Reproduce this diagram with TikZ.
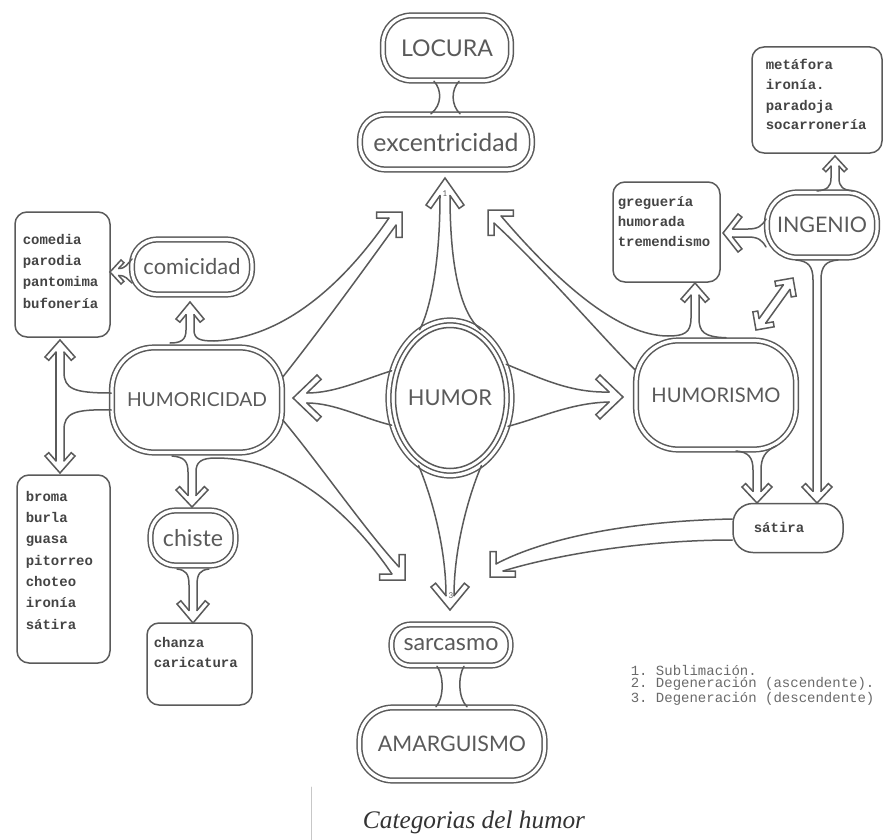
\documentclass[tikz,border=0pt]{standalone}
\usepackage{graphicx}
\usepackage{fontspec}
\setsansfont{Lato}
\setmonofont{Liberation Mono}
\newfontfamily\capfont{Liberation Serif}
\usetikzlibrary{calc,shapes.geometric}

\definecolor{lc}{HTML}{5A5A5A}
\definecolor{tc}{HTML}{5A5A5A}
\definecolor{mc}{HTML}{444444}
\definecolor{gc}{HTML}{6A6A6A}

% hollow arrow head parameters: length, half width, thickness, shaft half width
\newcommand\arL{18}\newcommand\arW{18}\newcommand\arT{6}\newcommand\arS{5}
\newcommand\fitw[2]{\resizebox{#1pt}{!}{#2}}
\newcommand\boxfont{\ttfamily\bfseries\fontsize{14}{21.3}\selectfont}
\newcommand\legfont{\ttfamily\fontsize{14}{12.8}\selectfont}

\tikzset{
  hsz/.code n args={4}{\def\arL{#1}\def\arW{#2}\def\arT{#3}\def\arS{#4}},
  % hollow chevron head, tip at the origin, pointing along +x;
  % (-a) and (-b) are where the two shaft edges enter the head
  hh/.pic={
    \pgfmathsetmacro\hlen{sqrt(\arL*\arL+\arW*\arW)}
    \pgfmathsetmacro\jx{-(\arT*\hlen+\arS*\arL)/\arW}
    \pgfmathsetmacro\ex{-\arL-\arT*\arW/\hlen}
    \pgfmathsetmacro\ey{\arW-\arT*\arL/\hlen}
    \fill[white] (\jx,\arS) -- (\ex,\ey) -- (-\arL,\arW) -- (0,0) -- (-\arL,-\arW)
      -- (\ex,-\ey) -- (\jx,-\arS) -- cycle;
    \draw[line join=miter] (\jx,\arS) -- (\ex,\ey) -- (-\arL,\arW) -- (0,0)
      -- (-\arL,-\arW) -- (\ex,-\ey) -- (\jx,-\arS);
    \coordinate (-a) at (\jx,\arS);
    \coordinate (-b) at (\jx,-\arS);
  },
  dbl/.style={draw, double=white, double distance=3.2pt, line width=1.5pt},
  pill/.style={dbl, rectangle, inner sep=0pt},
  box/.style={draw, rectangle, rounded corners=12pt, inner sep=0pt},
  lab/.style={text=tc, font=\sffamily},
  mono/.style={text=mc, font=\boxfont, align=left, anchor=base west, inner sep=0pt},
}

\begin{document}
\begin{tikzpicture}[x=1pt, y=-1pt, color=lc, line width=1.5pt, line cap=round, line join=round]
\fill[white] (0,0) rectangle (883,840);
\useasboundingbox (0,0) rectangle (883,840);

% ---------- main categories ----------
\node[pill, rounded corners=28pt, minimum width=128pt, minimum height=65pt, lab] (loc) at (447,48) {\fitw{92}{LOCURA}};
\node[pill, rounded corners=25pt, minimum width=172pt, minimum height=55pt, lab] (exc) at (446,142) {\fitw{145}{excentricidad}};
\node[pill, rounded corners=25pt, minimum width=120pt, minimum height=55pt, lab] (com) at (192,267) {\fitw{97}{comicidad}};
\node[pill, rounded corners=42pt, minimum width=170pt, minimum height=105pt, lab] (hcd) at (197,400) {\fitw{140}{HUMORICIDAD}};
\node[dbl, ellipse, inner sep=0pt, minimum width=123pt, minimum height=155pt, lab] (hum) at (450,398) {\fitw{84}{HUMOR}};
\draw (hum.center) ellipse [x radius=54.5pt, y radius=70.5pt];
\node[pill, rounded corners=42pt, minimum width=160pt, minimum height=109pt, lab] (hsm) at (716,395) {\fitw{129}{HUMORISMO}};
\node[pill, rounded corners=30pt, minimum width=110pt, minimum height=65pt, lab] (ing) at (822,225) {\fitw{90}{INGENIO}};
\node[pill, rounded corners=25pt, minimum width=85pt, minimum height=55pt, lab] (chi) at (193,538) {\fitw{60}{chiste}};
\node[pill, rounded corners=19pt, minimum width=119pt, minimum height=41pt, lab] (sar) at (451,645) {\fitw{95}{sarcasmo}};
\node[pill, rounded corners=33pt, minimum width=185pt, minimum height=73pt, lab] (ama) at (452,744) {\fitw{148}{AMARGUISMO}};
\node[box, rounded corners=20pt, minimum width=110pt, minimum height=49pt] (sat) at (788,528) {};
\node[text=mc, font=\ttfamily\bfseries\fontsize{14}{14}\selectfont, inner sep=0pt] (satl) at (779,527) {sátira};

% ---------- word lists (anchor on the last baseline) ----------
\node[box, minimum width=95pt, minimum height=125pt] (bcom) at (62.5,274.5) {};
\node[mono] (tcom) at (22,308) {comedia\\parodia\\pantomima\\bufonería};
\node[box, minimum width=93pt, minimum height=188pt] (bbro) at (63.5,569) {};
\node[mono] (tbro) at (25,629) {broma\\burla\\guasa\\pitorreo\\choteo\\ironía\\sátira};
\node[box, minimum width=105pt, minimum height=82pt] (bcha) at (199.5,664) {};
\node[mono, font=\ttfamily\bfseries\fontsize{14}{20}\selectfont] (tcha) at (153,667) {chanza\\caricatura};
\node[box, minimum width=107pt, minimum height=100pt] (bgre) at (666.5,232) {};
\node[mono, font=\ttfamily\bfseries\fontsize{14}{20}\selectfont] (tgre) at (617,246) {greguería\\humorada\\tremendismo};
\node[box, minimum width=130pt, minimum height=106pt] (bmet) at (817,100) {};
\node[mono, font=\ttfamily\bfseries\fontsize{14}{20}\selectfont] (tmet) at (765,130) {metáfora\\ironía.\\paradoja\\socarronería};

% ---------- arrow heads ----------
\pic[hsz={27}{19}{6}{5}, rotate=90] (u) at (445,178) {hh};
\pic[hsz={23}{19}{6}{4}, rotate=270] (d) at (450,610) {hh};
\pic[hsz={24}{23}{6}{5}, rotate=180] (l) at (293,398) {hh};
\pic[hsz={23}{22}{6}{5}, rotate=0] (r) at (623,397) {hh};
\pic[hsz={18}{18}{6}{5}, rotate=45] (ul) at (402,212) {hh};
\pic[hsz={18}{18}{6}{5}, rotate=135] (ur) at (488,210) {hh};
\pic[hsz={18}{18}{6}{5}, rotate=315] (ll) at (405,580) {hh};
\pic[hsz={18}{18}{6}{5}, rotate=225] (lr) at (490,577) {hh};
\pic[hsz={17}{14}{5}{4}, rotate=90] (cu) at (190,302) {hh};
\pic[hsz={11}{12}{4}{3.5}, rotate=180] (cl) at (110,272) {hh};
\pic[hsz={17}{15}{5}{4}, rotate=90] (vt) at (60,340) {hh};
\pic[hsz={17}{15}{5}{4}, rotate=270] (vb) at (60,473) {hh};
\pic[hsz={17}{16}{5}{4}, rotate=270] (cd) at (192,507) {hh};
\pic[hsz={19}{16}{5}{4}, rotate=270] (cc) at (193,623) {hh};
\pic[hsz={16}{14}{5}{4}, rotate=90] (gu) at (695,283) {hh};
\pic[hsz={15}{19}{5}{4}, rotate=180] (il) at (723,233) {hh};
\pic[hsz={13}{12}{4}{4}, rotate=90] (iu) at (835,156) {hh};
\pic[hsz={16}{15}{5}{4}, rotate=270] (hv) at (757,503) {hh};
\pic[hsz={16}{15}{5}{4}, rotate=270] (iv) at (817,503) {hh};
\pic[hsz={13}{13}{5}{4}, rotate=55] (da1) at (793,278) {hh};
\pic[hsz={13}{13}{5}{4}, rotate=235] (da2) at (756,330) {hh};

\node[text=tc, font=\sffamily\fontsize{8}{8}\selectfont, inner sep=0pt] (n1) at (445,194) {1};
\node[text=tc, font=\sffamily\fontsize{8}{8}\selectfont, inner sep=0pt] (n3) at (451,596) {3};

% ---------- shafts around HUMOR ----------
\draw (u-b) .. controls (440,272) and (428,314) .. (hum.114);
\draw (u-a) .. controls (450,272) and (462,314) .. (hum.66);
\draw (hum.245) .. controls (430,492) and (446,545) .. (d-a);
\draw (hum.295) .. controls (470,492) and (454,545) .. (d-b);
\draw (hum.155) .. controls (362,380) and (335,393) .. (l-a);
\draw (hum.205) .. controls (362,418) and (335,403) .. (l-b);
\draw (hum.31) .. controls (540,378) and (570,393) .. (r-b);
\draw (hum.334) .. controls (540,418) and (570,403) .. (r-a);

% ---------- HUMORICIDAD branches ----------
\draw (cu-b) -- (186,330) .. controls (186,340) and (181,343) .. (170,343);
\draw (cu-a) -- (194,330) .. controls (194,339) and (200,341) .. (214,341)
      .. controls (285,338) and (345,282) .. (ul-b);
\draw ($(hcd.east)+(0,-23)$) .. controls (320,330) and (365,268) .. (ul-a);
\draw (cl-a) .. controls (126,268.5) and (127,264) .. (132,259);
\draw (cl-b) .. controls (126,275.5) and (127,279) .. (132,283);
\draw (vt-b) -- (vb-a);
\draw (vt-a) -- (64,372) .. controls (64,389) and (74,393) .. ($(hcd.west)+(0,-7)$);
\draw (vb-b) -- (64,430) .. controls (64,413) and (74,409) .. ($(hcd.west)+(0,10)$);
\draw (cd-a) -- (188,472) .. controls (188,461) and (184,457) .. (172,456);
\draw (cd-b) -- (196,472) .. controls (196,462) and (201,458) .. (216,458)
      .. controls (290,458) and (352,515) .. (ll-a);
\draw ($(hcd.east)+(0,20)$) .. controls (318,462) and (365,530) .. (ll-b);
\draw (cc-a) -- (189,585) .. controls (189,574) and (186,570) .. (177,569);
\draw (cc-b) -- (197,585) .. controls (197,574) and (200,570) .. (209,569);

% ---------- HUMORISMO and INGENIO branches ----------
\draw (ur-a) .. controls (560,285) and (620,336) .. (668,336)
      .. controls (684,336) and (691,333) .. (691,318) -- (gu-b);
\draw (gu-a) -- (699,318) .. controls (699,332) and (704,337) .. ($(hsm.north)+(10,-2)$);
\draw (ur-b) .. controls (545,270) and (600,335) .. ($(hsm.west)+(0,-25)$);
\draw (hv-a) -- (753,470) .. controls (753,458) and (749,452) .. (736,451);
\draw (hv-b) -- (761,470) .. controls (761,458) and (765,451) .. (776,446);
\draw (iv-a) -- (813,280) .. controls (813,266) and (808,261) .. (796,260);
\draw (iv-b) -- (821,280) .. controls (821,266) and (826,261) .. (838,260);
\draw (il-a) -- (748,229) .. controls (758,229) and (762,226) .. (766,219);
\draw (il-b) -- (748,237) .. controls (758,237) and (762,240) .. (766,247);
\draw (iu-b) -- (831,178) .. controls (831,187) and (827,190) .. (817,191);
\draw (iu-a) -- (839,178) .. controls (839,187) and (843,190) .. (853,191);
\draw (da1-a) -- (da2-b);
\draw (da1-b) -- (da2-a);
\draw (lr-a) .. controls (545,538) and (630,521) .. ($(sat.west)+(0,-9)$);
\draw (lr-b) .. controls (552,556) and (640,540) .. ($(sat.west)+(0,12)$);

% ---------- necks ----------
\draw ($(loc.south)+(-13,0)$) .. controls (442,90) and (442,105) .. ($(exc.north)+(-15,0)$);
\draw ($(loc.south)+(12,0)$) .. controls (451,90) and (451,105) .. ($(exc.north)+(14,0)$);
\draw ($(sar.south)+(-14,0)$) .. controls (444,676) and (444,698) .. ($(ama.north)+(-16,0)$);
\draw ($(sar.south)+(13,0)$) .. controls (458,676) and (458,698) .. ($(ama.north)+(15,0)$);

% ---------- legend and caption ----------
\node[text=gc, font=\legfont, align=left, anchor=base west, inner sep=0pt] (leg) at (630,702)
  {1. Sublimación.\\2. Degeneración (ascendente).\\3. Degeneración (descendente)};
\draw[black!22, line width=1pt] (311,787) -- (311,840);
\node[text=black!80, inner sep=0pt] (cap) at (474,822) {\fitw{222}{\capfont\itshape Categorias del humor}};
\end{tikzpicture}
\end{document}
